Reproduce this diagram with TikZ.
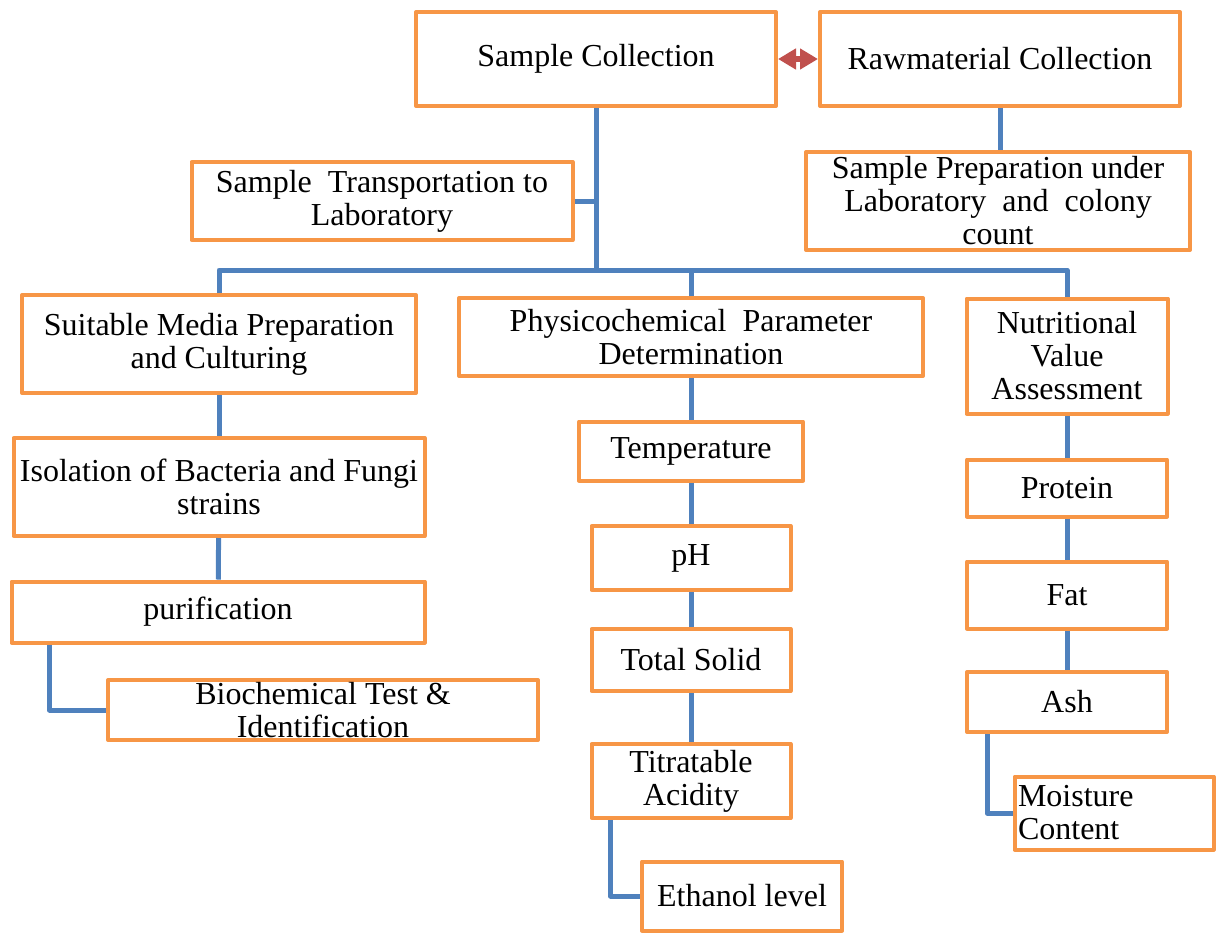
\documentclass[tikz,border=0pt]{standalone}
\usepackage{fontspec}
\setmainfont{Liberation Serif}
\usetikzlibrary{arrows.meta}

\definecolor{boxorange}{HTML}{F79646}
\definecolor{linkblue}{HTML}{4F81BD}
\definecolor{arrowred}{HTML}{C0504D}

\begin{document}
\begin{tikzpicture}[x=0.5pt, y=-0.5pt, line join=round]

    \tikzstyle{box}=[draw=boxorange, line width=2pt, fill=white, text=black, align=center, inner sep=0pt,
                     font=\fontsize{16}{16.5}\selectfont]
    \tikzstyle{link}=[draw=linkblue, line width=2.5pt]
    \tikzstyle{both}=[draw=arrowred, line width=3pt, {Triangle[length=9pt,width=10pt]}-{Triangle[length=9pt,width=10pt]}]

    \useasboundingbox (0,0) rectangle (1216,938);

    % top row
    \node[box, minimum width=180pt, minimum height=47pt]   (sc)  at (596,59)   {Sample Collection};
    \node[box, minimum width=180pt, minimum height=47pt]   (rc)  at (1000,59)  {Rawmaterial Collection};
    \node[box, minimum width=190.5pt, minimum height=39pt] (tr)  at (382,201)  {Sample\ \ Transportation to\\Laboratory};
    \node[box, minimum width=192pt, minimum height=49pt]   (sp)  at (998,201)  {Sample Preparation under\\Laboratory\ \ and\ \ colony\ \\count};

    % three branches
    \node[box, minimum width=197pt, minimum height=49pt]   (sm)  at (219,344)  {Suitable Media Preparation\\and Culturing};
    \node[box, minimum width=232pt, minimum height=39pt]   (pc)  at (691,337)  {Physicochemical\ \ Parameter\\Determination};
    \node[box, minimum width=100.5pt, minimum height=57.5pt] (nv) at (1067,356) {Nutritional\\Value\\Assessment};

    % left column
    \node[box, minimum width=205.5pt, minimum height=49pt] (iso) at (219,487)  {Isolation of Bacteria and Fungi\\strains};
    \node[box, minimum width=206.5pt, minimum height=30.5pt] (pur) at (218,612) {purification};
    \node[box, minimum width=215pt, minimum height=30pt]   (bio) at (323,710)  {Biochemical Test \&\\Identification};

    % middle column
    \node[box, minimum width=112pt, minimum height=29.5pt] (tem) at (691,451)  {Temperature};
    \node[box, minimum width=99.5pt, minimum height=32pt]  (ph)  at (691,558)  {pH};
    \node[box, minimum width=99.5pt, minimum height=31pt]  (ts)  at (691,660)  {Total Solid};
    \node[box, minimum width=99.5pt, minimum height=37pt]  (ta)  at (691,781)  {Titratable\\Acidity};
    \node[box, minimum width=100pt, minimum height=34.5pt] (eth) at (742,896)  {Ethanol level};

    % right column
    \node[box, minimum width=100pt, minimum height=28.5pt] (pro) at (1067,488) {Protein};
    \node[box, minimum width=100pt, minimum height=33.5pt] (fat) at (1067,595) {Fat};
    \node[box, minimum width=100pt, minimum height=30pt]   (ash) at (1067,702) {Ash};
    \node[box, minimum width=99.5pt, minimum height=36.5pt, align=left, text width=96pt] (mc) at (1114,813) {Moisture\\Content};

    \coordinate (bus) at (596,270);

    % connectors
    \draw[both] (sc.east) -- (rc.west);
    \draw[link] (sc.south) -- (bus);
    \draw[link] (tr.east) -- (tr.east -| sc.south);
    \draw[link] (rc.south) -- (rc.south |- sp.north);
    \draw[link] (sm.north) -- (sm.north |- bus) -- (nv.north |- bus) -- (nv.north);
    \draw[link] (pc.north) -- (pc.north |- bus);
    \draw[link] (sm) -- (iso);
    \draw[link] (iso) -- (pur);
    \draw[link] ([xshift=20pt]pur.south west) |- (bio.west);
    \draw[link] (pc.south) -- (tem.north);
    \draw[link] (tem) -- (ph);
    \draw[link] (ph) -- (ts);
    \draw[link] (ts) -- (ta);
    \draw[link] ([xshift=10.5pt]ta.south west) |- (eth.west);
    \draw[link] (nv) -- (pro);
    \draw[link] (pro) -- (fat);
    \draw[link] (fat) -- (ash);
    \draw[link] ([xshift=11pt]ash.south west) |- (mc.west);

\end{tikzpicture}
\end{document}
